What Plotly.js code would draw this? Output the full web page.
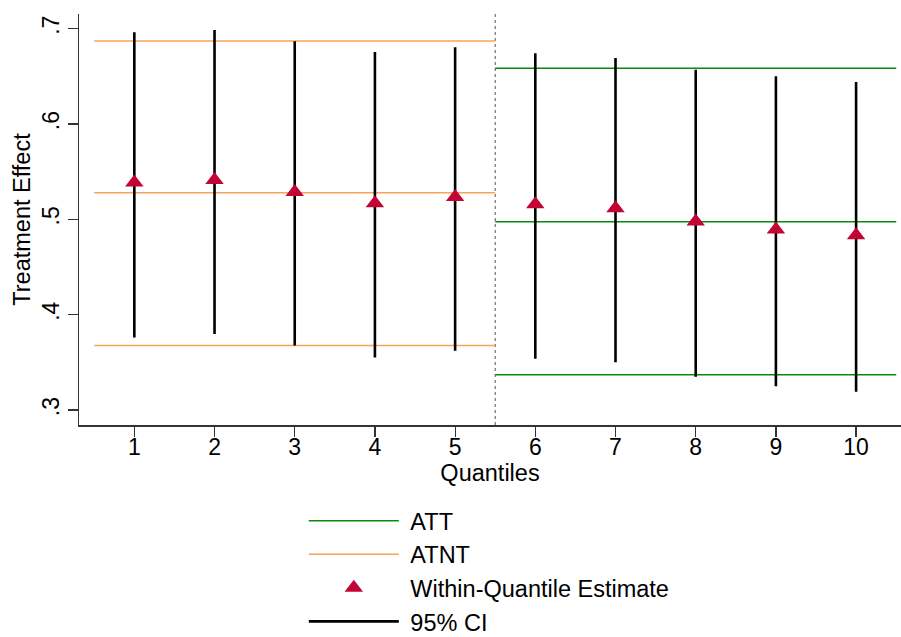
<!DOCTYPE html>
<html>
<head>
<meta charset="utf-8">
<script src="https://cdn.plot.ly/plotly-3.0.1.min.js"></script>
<style>
  html, body { margin: 0; padding: 0; background: #fff; }
  #chart { width: 901px; height: 637px; }
</style>
</head>
<body>
<div id="chart"></div>
<script>
// Quantile groups and within-quantile treatment effects with 95% CIs
const quantiles = [1, 2, 3, 4, 5, 6, 7, 8, 9, 10];
const estimate  = [0.5386, 0.5414, 0.5287, 0.5168, 0.5234, 0.5158, 0.5116, 0.4977, 0.4893, 0.4832];
const ciLower   = [0.3762, 0.3797, 0.3678, 0.3552, 0.3622, 0.3537, 0.3500, 0.3348, 0.3250, 0.3191];
const ciUpper   = [0.6962, 0.6986, 0.6868, 0.6755, 0.6805, 0.6742, 0.6693, 0.6570, 0.6500, 0.6441];

// Pooled effects: ATNT over quantiles 1-5, ATT over quantiles 6-10 (estimate, lower, upper)
const atntSpan = [0.5, 5.5];
const atntVals = [0.5279, 0.3678, 0.6870];
const attSpan  = [5.5, 10.5];
const attVals  = [0.4975, 0.3370, 0.6584];
const splitAt  = 5.5;

const yTicks  = [0.3, 0.4, 0.5, 0.6, 0.7];
const yLabels = ['.3', '.4', '.5', '.6', '.7'];

// Horizontal segments at each pooled level, separated by gaps
function levelLines(span, vals) {
  const x = [], y = [];
  vals.forEach(v => { x.push(span[0], span[1], null); y.push(v, v, null); });
  return { x, y };
}

const att = levelLines(attSpan, attVals);
const atnt = levelLines(atntSpan, atntVals);

const ciX = [], ciY = [];
quantiles.forEach((q, i) => { ciX.push(q, q, null); ciY.push(ciLower[i], ciUpper[i], null); });

const FONT = 'Liberation Sans, Arial, sans-serif';
const NB = '\u00a0';

const traces = [
  { type: 'scatter', mode: 'lines', name: NB + 'ATT', x: att.x, y: att.y,
    line: { color: '#0a8a0a', width: 1.5 }, legendrank: 1, legendgroup: 'a' },
  { type: 'scatter', mode: 'lines', name: NB + 'ATNT', x: atnt.x, y: atnt.y,
    line: { color: '#f5a45a', width: 1.5 }, legendrank: 2, legendgroup: 'b' },
  { type: 'scatter', mode: 'lines', name: NB + '95% CI', x: ciX, y: ciY,
    line: { color: '#000000', width: 2.6 }, legendrank: 4, legendgroup: 'd' },
  { type: 'scatter', mode: 'markers', name: NB + 'Within-Quantile Estimate',
    x: quantiles, y: estimate,
    marker: { symbol: 'triangle-up', size: 16, color: '#c10534', line: { width: 0 } },
    legendrank: 3, legendgroup: 'c' }
];

const layout = {
  width: 901, height: 637,
  margin: { l: 79, r: 0, t: 14, b: 212, autoexpand: false },
  paper_bgcolor: '#ffffff', plot_bgcolor: '#ffffff',
  font: { family: FONT, size: 23, color: '#000' },
  showlegend: true,
  legend: {
    x: 0.2735, y: -0.18, xanchor: 'left', yanchor: 'top',
    orientation: 'v', traceorder: 'grouped', tracegroupgap: 0,
    itemwidth: 90, font: { family: FONT, size: 23.5, color: '#000' },
    bgcolor: 'rgba(0,0,0,0)'
  },
  xaxis: {
    range: [0.31, 10.56], tickvals: quantiles, ticktext: quantiles.map(String),
    showgrid: false, zeroline: false, showline: true, linecolor: '#333', linewidth: 1.5,
    ticks: 'outside', ticklen: 10, tickwidth: 1.2, tickcolor: '#333',
    ticklabelstandoff: -9,
    tickfont: { family: FONT, size: 23, color: '#000' },
    title: { text: 'Quantiles', font: { family: FONT, size: 23.5, color: '#000' }, standoff: 3 },
    automargin: false, fixedrange: true
  },
  yaxis: {
    range: [0.2843, 0.7154], tickvals: yTicks, ticktext: yLabels, tickangle: -90,
    showgrid: false, zeroline: false, showline: true, linecolor: '#333', linewidth: 1.5,
    ticks: 'outside', ticklen: 10, tickwidth: 1.2, tickcolor: '#333',
    ticklabelstandoff: -1,
    tickfont: { family: FONT, size: 23, color: '#000' },
    title: { text: 'Treatment Effect', font: { family: FONT, size: 23.5, color: '#000' }, standoff: 1 },
    automargin: false, fixedrange: true
  },
  shapes: [
    { type: 'line', xref: 'x', yref: 'paper', x0: splitAt, x1: splitAt, y0: 0, y1: 1,
      line: { color: '#555', width: 1, dash: 'dot' }, layer: 'below' }
  ]
};

Plotly.newPlot('chart', traces, layout, { staticPlot: true, displayModeBar: false });
</script>
</body>
</html>
